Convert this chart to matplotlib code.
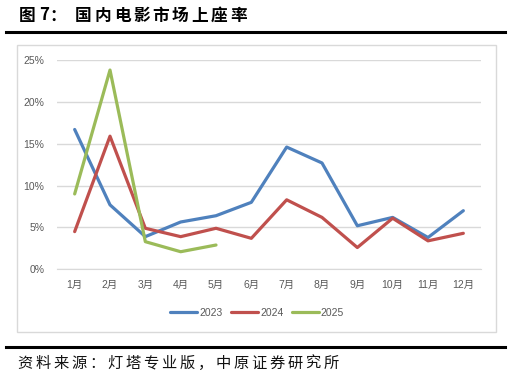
import matplotlib
matplotlib.use("Agg")
import matplotlib.pyplot as plt
from matplotlib.patches import Rectangle
from matplotlib.lines import Line2D
from matplotlib.ticker import FuncFormatter

months = ["1月", "2月", "3月", "4月", "5月", "6月", "7月", "8月", "9月", "10月", "11月", "12月"]
s2023 = [16.7, 7.7, 3.9, 5.65, 6.4, 8.0, 14.6, 12.7, 5.2, 6.2, 3.8, 7.0]
s2024 = [4.5, 15.9, 4.9, 3.9, 4.9, 3.7, 8.3, 6.2, 2.6, 6.1, 3.4, 4.3]
s2025 = [9.0, 23.8, 3.3, 2.1, 2.9]
series_names = ["2023", "2024", "2025"]
colors = ["#4F81BD", "#C0504D", "#9BBB59"]
yticks = [0, 5, 10, 15, 20, 25]
title_prefix = ["图", "7", "："]
title_main = "国内电影市场上座率"
footer = "资料来源：灯塔专业版，中原证券研究所"

W, H = 511, 378
fig = plt.figure(figsize=(W / 100, H / 100), dpi=100)
plt.rcParams['font.family'] = ['Liberation Sans', 'Noto Sans CJK SC']

def px(x0, y0, x1, y1):
    return [x0 / W, 1 - y1 / H, (x1 - x0) / W, (y1 - y0) / H]

# outer chart border
fig.patches.append(Rectangle((17 / W, 1 - 332 / H), (496 - 17) / W, (332 - 45) / H,
                             transform=fig.transFigure, fill=False, edgecolor="#D9D9D9", lw=1))
# thick rules
fig.lines.append(Line2D([6 / W, 505 / W], [1 - 31.5 / H] * 2, transform=fig.transFigure, color="black", lw=2.2))
fig.lines.append(Line2D([6 / W, 505 / W], [1 - 346.5 / H] * 2, transform=fig.transFigure, color="black", lw=2.2))

# title with letter spacing
for ch, xp in zip(title_prefix, [19, 39, 49]):
    fig.text(xp / W, 1 - 15.5 / H, ch, fontsize=12, fontweight="bold",
             family=["Noto Sans CJK SC"], va="center", ha="left", color="black")
for i, ch in enumerate(title_main):
    fig.text((75 + 19.4 * i) / W, 1 - 15.5 / H, ch, fontsize=12, fontweight="bold",
             family=["Noto Sans CJK SC"], va="center", ha="left", color="black")
# footer with letter spacing
for i, ch in enumerate(footer):
    fig.text((17.5 + 18.0 * i) / W, 1 - 363.5 / H, ch, fontsize=11,
             family=["Noto Sans CJK SC"], va="center", ha="left", color="#111111")

ax = fig.add_axes(px(57, 60, 481, 269.3))
x = list(range(len(months)))
lines = []
for vals, c, name in zip([s2023, s2024, s2025], colors, series_names):
    l, = ax.plot(x[:len(vals)], vals, color=c, lw=2.3, label=name, solid_capstyle="round", solid_joinstyle="round")
    lines.append(l)

ax.set_xlim(-0.5, len(months) - 0.5)
ax.set_ylim(0, 25)
ax.set_yticks(yticks)
ax.yaxis.set_major_formatter(FuncFormatter(lambda v, p: f"{int(v)}%"))
ax.set_xticks(x)
ax.set_xticklabels(months)
ax.grid(axis="y", color="#D9D9D9", lw=1)
ax.set_axisbelow(True)
for s in ["top", "right", "left"]:
    ax.spines[s].set_visible(False)
ax.spines["bottom"].set_color("#D9D9D9")
ax.tick_params(axis="both", length=0, labelsize=7.5, labelcolor="#595959")
ax.tick_params(axis="y", pad=9)
ax.tick_params(axis="x", pad=8)
ax.patch.set_alpha(0)

fig.legend(lines, series_names, loc="center", bbox_to_anchor=(257 / W, 1 - 313 / H), ncol=3,
           frameon=False, fontsize=7.5, handlelength=2.6, columnspacing=0.8, handletextpad=0.2,
           labelcolor="#595959")

fig.savefig("out.png", dpi=100)
